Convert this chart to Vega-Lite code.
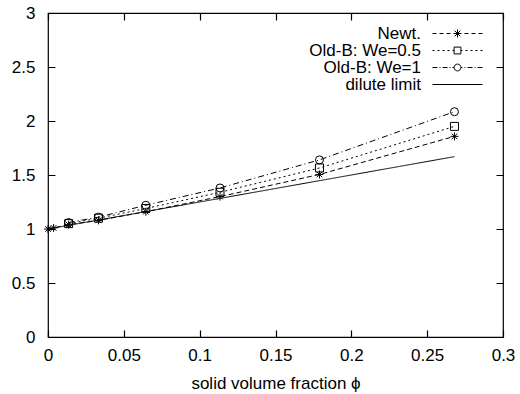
{
  "$schema": "https://vega.github.io/schema/vega-lite/v6.json",
  "width": 455,
  "height": 324,
  "autosize": "none",
  "padding": {"left": 48, "top": 13, "right": 17, "bottom": 57},
  "background": "white",
  "config": {
    "view": {"stroke": "black", "strokeWidth": 1.2},
    "font": "Liberation Sans"
  },
  "data": {
    "values": [
      {"phi": 0, "ratio": 1.0, "series": "Newt."},
      {"phi": 0.0037, "ratio": 1.01, "series": "Newt."},
      {"phi": 0.0136, "ratio": 1.04, "series": "Newt."},
      {"phi": 0.0333, "ratio": 1.08, "series": "Newt."},
      {"phi": 0.0645, "ratio": 1.16, "series": "Newt."},
      {"phi": 0.1134, "ratio": 1.30, "series": "Newt."},
      {"phi": 0.179, "ratio": 1.505, "series": "Newt."},
      {"phi": 0.268, "ratio": 1.858, "series": "Newt."},
      {"phi": 0.0136, "ratio": 1.05, "series": "Old-B: We=0.5"},
      {"phi": 0.0333, "ratio": 1.10, "series": "Old-B: We=0.5"},
      {"phi": 0.0645, "ratio": 1.19, "series": "Old-B: We=0.5"},
      {"phi": 0.1134, "ratio": 1.34, "series": "Old-B: We=0.5"},
      {"phi": 0.179, "ratio": 1.565, "series": "Old-B: We=0.5"},
      {"phi": 0.268, "ratio": 1.95, "series": "Old-B: We=0.5"},
      {"phi": 0.0136, "ratio": 1.06, "series": "Old-B: We=1"},
      {"phi": 0.0333, "ratio": 1.11, "series": "Old-B: We=1"},
      {"phi": 0.0645, "ratio": 1.22, "series": "Old-B: We=1"},
      {"phi": 0.1134, "ratio": 1.38, "series": "Old-B: We=1"},
      {"phi": 0.179, "ratio": 1.64, "series": "Old-B: We=1"},
      {"phi": 0.268, "ratio": 2.086, "series": "Old-B: We=1"},
      {"phi": 0, "ratio": 1.0, "series": "dilute limit"},
      {"phi": 0.268, "ratio": 1.67, "series": "dilute limit"}
    ]
  },
  "encoding": {
    "x": {"field": "phi", "type": "quantitative", "scale": {"domain": [0, 0.3], "nice": false, "zero": false},
      "axis": {"title": "solid volume fraction ϕ", "values": [0, 0.05, 0.1, 0.15, 0.2, 0.25, 0.3], "format": "~g", "domain": false, "ticks": false, "labelFont": "Liberation Sans", "labelFontSize": 17, "labelColor": "black", "titleFont": "Liberation Sans", "titleFontSize": 17, "titleFontWeight": "normal", "titleColor": "black", "labelFlush": false, "labelOverlap": false, "labelPadding": 10, "titlePadding": 12, "grid": true, "gridColor": "black", "gridOpacity": 1, "gridWidth": 1.2, "gridDash": [7, 310]}},
    "y": {"field": "ratio", "type": "quantitative", "scale": {"domain": [0, 3], "nice": false},
      "axis": {"title": null, "values": [0, 0.5, 1, 1.5, 2, 2.5, 3], "format": "~g", "domain": false, "ticks": false, "labelFont": "Liberation Sans", "labelFontSize": 17, "labelColor": "black", "labelFlush": false, "labelOverlap": false, "labelPadding": 13, "grid": true, "gridColor": "black", "gridOpacity": 1, "gridWidth": 1.2, "gridDash": [7, 441]}}
  },
  "layer": [
    {
      "mark": {"type": "line", "color": "black", "strokeWidth": 1},
      "encoding": {
        "strokeDash": {"field": "series", "type": "nominal", "legend": null,
          "scale": {"domain": ["Newt.", "Old-B: We=0.5", "Old-B: We=1", "dilute limit"], "range": [[5, 3], [2, 3], [6, 3, 1, 3], [1, 0]]}}
      }
    },
    {
      "transform": [{"filter": "datum.series !== 'dilute limit'"}],
      "mark": {"type": "point", "filled": false, "color": "black", "strokeWidth": 1, "size": 64, "opacity": 1},
      "encoding": {
        "shape": {"field": "series", "type": "nominal", "legend": null,
          "scale": {"domain": ["Newt.", "Old-B: We=0.5", "Old-B: We=1"], "range": ["M-1,0H1M0,-1V1M-0.7,-0.7L0.7,0.7M-0.7,0.7L0.7,-0.7", "square", "circle"]}}
      }
    },
    {
      "transform": [{"filter": "false"}],
      "mark": {"type": "point", "filled": false, "color": "black", "size": 64},
      "encoding": {
        "shape": {"field": "series", "type": "nominal",
          "scale": {"domain": ["Newt.", "Old-B: We=0.5", "Old-B: We=1", "dilute limit"],
            "range": [
              "M-6.25,0H-5.25M-4.5,0H-3.5M-2.75,0H-1.75M-1,0H1M0,-1V1M-0.7,-0.7L0.7,0.7M-0.7,0.7L0.7,-0.7M1.75,0H2.75M3.5,0H4.5M5.25,0H6.25",
              "M-6.25,0H-5.75M-5,0H-4.5M-3.75,0H-3.25M-2.5,0H-2M-1.25,0H-0.85M-0.85,-0.85H0.85V0.85H-0.85ZM0.85,0H1.25M2,0H2.5M3.25,0H3.75M4.5,0H5M5.75,0H6.25",
              "M-6.25,0H-5M-4.5,0H-4.25M-3.75,0H-2.5M-2,0H-1.75M-1.25,0H-0.85M0.85,0A0.85,0.85 0 1 1 -0.85,0A0.85,0.85 0 1 1 0.85,0M0.85,0H1.25M1.75,0H2M2.5,0H3.75M4.25,0H4.5M5,0H6.25",
              "M-6.25,0H6.25"
            ]},
          "legend": {"title": null, "orient": "none", "legendX": 401, "legendY": 12, "padding": 0, "symbolOpacity": 1, "symbolFillColor": "transparent", "symbolStrokeColor": "black", "symbolStrokeWidth": 1, "symbolSize": 64, "labelAlign": "right", "labelOffset": -45, "labelFontSize": 17, "labelFont": "Liberation Sans", "labelColor": "black", "labelLimit": 300, "rowPadding": -2}}
      }
    }
  ],
  "resolve": {"scale": {"shape": "independent", "strokeDash": "independent"}}
}
